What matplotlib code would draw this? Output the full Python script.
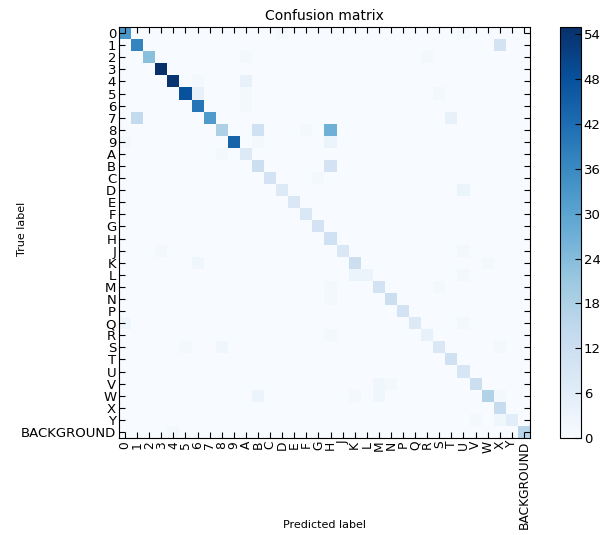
import numpy as np
import matplotlib
matplotlib.use("Agg")
import matplotlib.pyplot as plt

# class labels (rows = true, cols = predicted)
classes = ["0", "1", "2", "3", "4", "5", "6", "7", "8", "9",
           "A", "B", "C", "D", "E", "F", "G", "H", "J", "K", "L", "M", "N",
           "P", "Q", "R", "S", "T", "U", "V", "W", "X", "Y", "BACKGROUND"]

# correct predictions per class (diagonal)
diag_counts = [33, 37, 23, 55, 54, 48, 40, 32, 18, 44,
               7, 12, 10, 7, 8, 8, 10, 11, 8, 12, 3, 10, 12,
               10, 7, 4, 8, 11, 9, 12, 17, 13, 6, 16]

# confusions: (true label, predicted label, count)
confusions = [
    ("0", "D", 1), ("0", "U", 1),
    ("1", "X", 10),
    ("2", "A", 1), ("2", "R", 1),
    ("4", "6", 1), ("4", "A", 4),
    ("5", "6", 4), ("5", "A", 1), ("5", "S", 1),
    ("6", "A", 1),
    ("7", "1", 14), ("7", "T", 4),
    ("8", "B", 11), ("8", "H", 27), ("8", "F", 1),
    ("9", "0", 1), ("9", "B", 1), ("9", "H", 3),
    ("A", "8", 1),
    ("B", "H", 10),
    ("C", "G", 1),
    ("D", "U", 3),
    ("J", "3", 1), ("J", "U", 1),
    ("K", "6", 2), ("K", "W", 1),
    ("L", "K", 3), ("L", "U", 1),
    ("M", "H", 1), ("M", "S", 1),
    ("N", "H", 1),
    ("Q", "0", 2), ("Q", "U", 1),
    ("R", "H", 1),
    ("S", "5", 1), ("S", "8", 2), ("S", "X", 1),
    ("V", "M", 2), ("V", "N", 1),
    ("W", "B", 3), ("W", "K", 1), ("W", "M", 2), ("W", "X", 1),
    ("Y", "V", 1), ("Y", "X", 2),
    ("BACKGROUND", "4", 1),
]

cbar_ticks = [0, 6, 12, 18, 24, 30, 36, 42, 48, 54]

# build the matrix
n = len(classes)
cm = np.diag(np.array(diag_counts, dtype=float))
idx = {c: i for i, c in enumerate(classes)}
for t, p, v in confusions:
    cm[idx[t], idx[p]] = v

narrow = ["Liberation Sans Narrow", "DejaVu Sans"]

fig = plt.figure(figsize=(6, 5.35), dpi=100)
ax = fig.add_axes([0.1983, 0.1813, 0.685, 0.7682])
im = ax.imshow(cm, interpolation="nearest", cmap=plt.cm.Blues,
               vmin=0, vmax=55, aspect="auto")
ax.set_title("Confusion matrix", fontsize=10, pad=5)

ax.set_xticks(np.arange(n))
ax.set_yticks(np.arange(n))
ax.set_xticklabels(classes, rotation=90, family=narrow, size=8.8)
ax.set_yticklabels(classes, family=narrow, size=9.5)
ax.tick_params(direction="in", length=4, width=0.8, top=True, right=True,
               pad=2, colors="black")
for s in ax.spines.values():
    s.set_linewidth(0.8)

ax.set_xlabel("Predicted label", fontsize=8)
ax.set_ylabel("True label", fontsize=8)
ax.xaxis.set_label_coords(0.5, -0.2)
ax.yaxis.set_label_coords(-0.225, 0.51)

cax = fig.add_axes([0.9333, 0.1813, 0.035, 0.7682])
cb = fig.colorbar(im, cax=cax, ticks=cbar_ticks)
cb.ax.tick_params(direction="in", length=4, width=0.8, pad=2)
for lab in cb.ax.get_yticklabels():
    lab.set_fontfamily(narrow)
    lab.set_fontsize(9.5)
cb.outline.set_linewidth(0.8)

fig.savefig("out.png", dpi=100)
